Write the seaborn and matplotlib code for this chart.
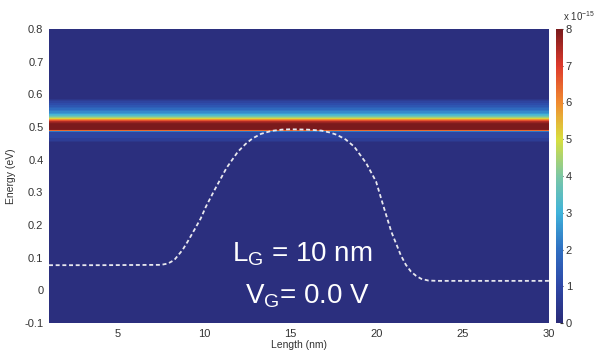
import numpy as np
import matplotlib
matplotlib.use("Agg")
import matplotlib.pyplot as plt
from matplotlib.colors import LinearSegmentedColormap, Normalize
from matplotlib.cm import ScalarMappable
import pandas as pd
import seaborn as sns

# Local density of states (x 1e-15) versus energy, uniform along the channel
energy_ev = [-0.10, 0.445, 0.455, 0.462, 0.475, 0.484, 0.487, 0.490, 0.493,
             0.500, 0.510, 0.516, 0.520, 0.525, 0.530, 0.535, 0.540, 0.550,
             0.560, 0.570, 0.578, 0.585, 0.60, 0.80]
ldos = [0.0, 0.0, 0.3, 0.7, 0.85, 1.0, 2.6, 7.6, 8.1,
        8.2, 8.1, 7.6, 6.6, 5.4, 4.3, 3.5, 2.8, 2.1,
        1.6, 1.2, 0.8, 0.2, 0.0, 0.0]
length_ends = [1, 30]

# Conduction band edge along the device (dashed profile)
band_length = [1.0, 4.0, 7.5, 7.9, 8.27, 8.75, 9.04, 9.43, 9.8, 10.1, 10.6,
               11.3, 11.95, 12.4, 12.8, 13.3, 13.9, 14.5, 15.0, 16.0, 16.8,
               17.3, 17.7, 18.2, 18.7, 19.4, 19.97, 20.35, 20.85, 21.4, 21.7,
               22.0, 22.3, 22.6, 23.0, 23.5, 30.0]
band_energy = [0.077, 0.077, 0.078, 0.082, 0.093, 0.124, 0.149, 0.185, 0.22,
               0.256, 0.307, 0.375, 0.424, 0.448, 0.465, 0.479, 0.488, 0.492,
               0.493, 0.492, 0.489, 0.483, 0.476, 0.462, 0.44, 0.389, 0.333,
               0.266, 0.18, 0.108, 0.078, 0.057, 0.044, 0.035, 0.030, 0.029,
               0.029]

x_ticks = [5, 10, 15, 20, 25, 30]
y_ticks = [-0.1, 0, 0.1, 0.2, 0.3, 0.4, 0.5, 0.6, 0.7, 0.8]
y_tick_labels = ["-0.1", "0", "0.1", "0.2", "0.3", "0.4", "0.5", "0.6", "0.7", "0.8"]
cbar_ticks = [0, 1, 2, 3, 4, 5, 6, 7, 8]

sns.set_style("white")
plt.rcParams["font.family"] = ["Liberation Sans", "DejaVu Sans"]
plt.rcParams["mathtext.fontset"] = "custom"
plt.rcParams["mathtext.rm"] = "Liberation Sans"
plt.rcParams["mathtext.it"] = "Liberation Sans"

navy = "#2a2b78"
cmap = LinearSegmentedColormap.from_list("soft_jet", [
    (0.0, navy),
    (0.125, "#2e47a6"),
    (0.25, "#2f6fc2"),
    (0.375, "#3fb3da"),
    (0.5, "#7cc7a4"),
    (0.625, "#d8df3e"),
    (0.75, "#f08c30"),
    (0.875, "#de3a2c"),
    (1.0, "#7a1a1c"),
])

fig = plt.figure(figsize=(6.07, 3.54), dpi=100)
ax = fig.add_axes([49 / 607, 1 - 323 / 354, 500 / 607, 294 / 354])
ax.set_facecolor(navy)

L, E = np.meshgrid(np.array(length_ends, float), np.array(energy_ev, float))
Z = np.repeat(np.array(ldos, float)[:, None], len(length_ends), axis=1)
levels = np.linspace(0, 8.3, 34)
ax.contourf(L, E, Z, levels=levels, cmap=cmap, vmin=0, vmax=8, extend="max")

band = pd.DataFrame({"length": band_length, "energy": band_energy})
sns.lineplot(data=band, x="length", y="energy", ax=ax, color="#e8e8ee",
             linestyle=(0, (2.2, 1.5)), linewidth=1.3, sort=False)

ax.set_xlim(1, 30)
ax.set_ylim(-0.1, 0.8)
ax.set_xticks(x_ticks)
ax.set_xticklabels([str(t) for t in x_ticks])
ax.set_yticks(y_ticks)
ax.set_yticklabels(y_tick_labels)
ax.tick_params(axis="both", labelsize=8, colors="#333333", length=0, pad=4)
ax.set_xlabel("Length (nm)", fontsize=7.5, color="#333333", labelpad=1)
ax.set_ylabel("Energy (eV)", fontsize=7.5, color="#333333", labelpad=6)
for s in ax.spines.values():
    s.set_visible(False)

# Gate annotations, placed in figure pixels (origin at the top-left)
W, H = 607, 354
ax.text(232, H - 262, r"L$_\mathrm{G}$ = 10 nm", transform=None, fontsize=20,
        color="white", ha="left", va="baseline")
ax.text(245, H - 303, r"V$_\mathrm{G}$= 0.0 V", transform=None, fontsize=20,
        color="white", ha="left", va="baseline")

cax = fig.add_axes([556 / W, 1 - 323 / H, 7 / W, 294 / H])
sm = ScalarMappable(norm=Normalize(0, 8), cmap=cmap)
cb = fig.colorbar(sm, cax=cax, ticks=cbar_ticks)
cb.outline.set_visible(False)
cax.tick_params(labelsize=8, colors="#333333", length=2, direction="in", pad=2)
fig.text(563 / W, 1 - 16 / H, r"x 10$^{-15}$", fontsize=7, color="#333333",
         ha="left", va="center")

fig.savefig("out.png", dpi=100, facecolor="white")
